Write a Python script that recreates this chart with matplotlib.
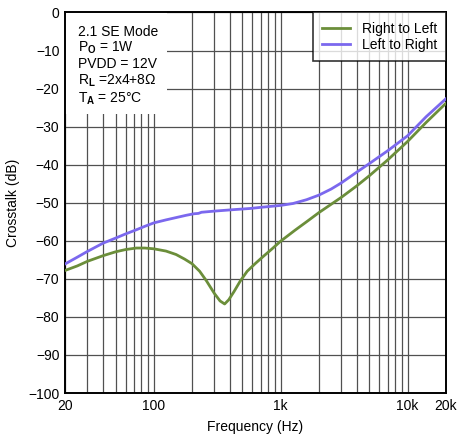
import matplotlib
matplotlib.use("Agg")
import matplotlib.pyplot as plt
from matplotlib.ticker import FixedLocator, NullFormatter, LogLocator

plt.rcParams['font.family'] = ['Liberation Sans', 'DejaVu Sans']
plt.rcParams['mathtext.fontset'] = 'custom'
plt.rcParams['mathtext.rm'] = 'Liberation Sans'
plt.rcParams['mathtext.bf'] = 'Liberation Sans:bold'

# Right to Left
freq_rl = [20, 25, 30, 40, 50, 60, 73, 85, 100, 125, 150, 175, 200, 230, 260, 300,
           333, 362, 390, 430, 480, 545, 630, 730, 850, 1000, 1300, 1600, 2000,
           3000, 4000, 5000, 7000, 10000, 14000, 20000]
rl = [-67.8, -66.6, -65.4, -63.9, -62.9, -62.3, -61.9, -61.9, -62.1, -62.7, -63.6,
      -64.8, -66.0, -68.0, -70.5, -73.8, -75.8, -76.6, -75.5, -73.3, -70.6, -68.0,
      -66.0, -64.1, -62.2, -60.1, -57.2, -55.0, -52.6, -48.6, -45.5, -42.9, -38.7,
      -33.9, -28.9, -23.9]

# Left to Right
freq_lr = [20, 25, 30, 40, 50, 60, 73, 85, 100, 125, 150, 180, 207, 225, 238, 300,
           430, 577, 700, 1000, 1250, 1600, 2000, 2500, 3000, 4000, 5000, 7000,
           10000, 14000, 20000]
lr = [-66.1, -64.3, -62.8, -60.6, -59.3, -58.2, -57.1, -56.2, -55.3, -54.5, -53.9,
      -53.3, -52.9, -52.8, -52.5, -52.2, -51.8, -51.5, -51.2, -50.7, -50.2, -49.2,
      -48.0, -46.4, -44.8, -41.9, -39.7, -36.3, -32.4, -27.4, -22.7]

x_ticks = [20, 100, 1000, 10000, 20000]
x_labels = ['20', '100', '1k', '10k', '20k']
y_ticks = list(range(-100, 1, 10))
y_labels = ['\u2212100', '\u221290', '\u221280', '\u221270', '\u221260', '\u221250',
            '\u221240', '\u221230', '\u221220', '\u221210', '0']

fig = plt.figure(figsize=(4.61, 4.38), dpi=100)
ax = fig.add_axes([0.141, 0.1027, 0.826, 0.8688])

ax.set_xscale('log')
ax.set_xlim(20, 20000)
ax.set_ylim(-100, 0)

ax.xaxis.set_major_locator(FixedLocator(x_ticks))
ax.set_xticklabels(x_labels)
ax.xaxis.set_minor_locator(LogLocator(base=10, subs=range(2, 10)))
ax.xaxis.set_minor_formatter(NullFormatter())
ax.set_yticks(y_ticks)
ax.set_yticklabels(y_labels)

ax.grid(True, which='both', axis='x', color='#505050', linewidth=0.9)
ax.grid(True, which='major', axis='y', color='#505050', linewidth=0.9)
ax.set_axisbelow(True)
ax.tick_params(which='both', length=0, labelsize=10, pad=4)

for s in ax.spines.values():
    s.set_linewidth(1.4)
    s.set_color('black')

ax.plot(freq_rl, rl, color='#6B8E3A', linewidth=2.0, label='Right to Left', zorder=3)
ax.plot(freq_lr, lr, color='#7B68EE', linewidth=2.0, label='Left to Right', zorder=3)

ax.set_xlabel('Frequency (Hz)', fontsize=10, labelpad=5)
ax.set_ylabel('Crosstalk (dB)', fontsize=10, labelpad=6)

# white box behind the condition text
ax.fill_between([20, 128], [-26.6, -26.6], [0, 0], color='white', zorder=2, linewidth=0)
txt = ('2.1 SE Mode\n'
       'P$_{\\mathbf{O}}$ = 1W\n'
       'PVDD = 12V\n'
       'R$_{\\mathbf{L}}$ =2x4+8\u03A9\n'
       'T$_{\\mathbf{A}}$ = 25\u00B0C')
ax.text(0.035, 0.968, txt, transform=ax.transAxes, fontsize=10, va='top', ha='left',
        linespacing=1.1, zorder=4)

leg = ax.legend(loc='upper right', fontsize=10, frameon=True, fancybox=False,
                borderaxespad=0, handlelength=2.0, handletextpad=0.85,
                borderpad=0.65, labelspacing=0.2)
leg.get_frame().set_edgecolor('black')
leg.get_frame().set_linewidth(1.2)
leg.set_zorder(5)

fig.savefig('out.png', dpi=100)
